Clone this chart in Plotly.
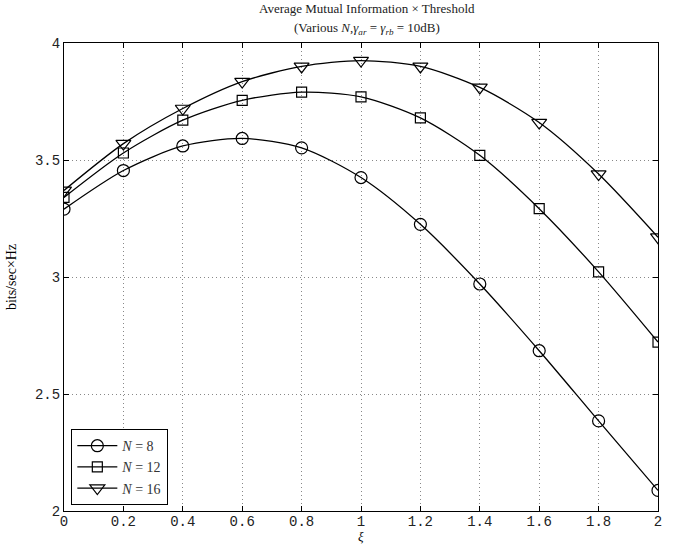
import plotly.graph_objects as go

xi = [0, 0.2, 0.4, 0.6, 0.8, 1.0, 1.2, 1.4, 1.6, 1.8, 2.0]
n8 = [3.29, 3.455, 3.56, 3.592, 3.552, 3.425, 3.225, 2.97, 2.685, 2.385, 2.088]
n12 = [3.34, 3.53, 3.67, 3.755, 3.79, 3.77, 3.68, 3.52, 3.292, 3.022, 2.722]
n16 = [3.37, 3.57, 3.72, 3.835, 3.9, 3.925, 3.9, 3.81, 3.66, 3.44, 3.17]
names = ["<i>N</i> = 8", "<i>N</i> = 12", "<i>N</i> = 16"]
symbols = ["circle-open", "square-open", "triangle-down-open"]
x_ticks = [0, 0.2, 0.4, 0.6, 0.8, 1, 1.2, 1.4, 1.6, 1.8, 2]
x_ticktext = ["0", "0.2", "0.4", "0.6", "0.8", "1", "1.2", "1.4", "1.6", "1.8", "2"]
y_ticks = [2, 2.5, 3, 3.5, 4]
y_ticktext = ["2", "2.5", "3", "3.5", "4"]

fig = go.Figure()
for ys, nm, sym, sz in zip([n8, n12, n16], names, symbols, [12, 10, 13]):
    fig.add_trace(go.Scatter(
        x=xi, y=ys, name=nm, mode="lines+markers",
        line=dict(color="black", width=1.3, shape="spline", smoothing=0.8),
        marker=dict(symbol=sym, size=sz, color="black", line=dict(width=1.2)),
    ))

axis_common = dict(
    showline=True, linecolor="black", linewidth=1.2, mirror="ticks",
    ticks="inside", ticklen=5, tickcolor="black",
    showgrid=True, gridcolor="#888888", griddash="1px,3px", gridwidth=1,
    zeroline=False, automargin=False,
    tickfont=dict(family="Liberation Mono, Courier New, monospace", size=14, color="#222222"),
)

serif = "Liberation Serif, Times New Roman, serif"
fig.update_layout(
    width=678, height=546,
    paper_bgcolor="white", plot_bgcolor="white",
    margin=dict(l=64, r=20, t=43, b=35),
    xaxis=dict(range=[0, 2], tickvals=x_ticks, ticktext=x_ticktext,
               ticklabelstandoff=-3, **axis_common),
    yaxis=dict(range=[2, 4], tickvals=y_ticks, ticktext=y_ticktext,
               title=dict(text="bits/sec×Hz", standoff=14,
                          font=dict(family=serif, size=14, color="black")),
               **axis_common),
    legend=dict(x=0.012, y=0.013, xanchor="left", yanchor="bottom",
                bgcolor="white", bordercolor="black", borderwidth=1.2,
                font=dict(family=serif, size=14, color="#333333"),
                tracegroupgap=0, itemwidth=40),
    showlegend=True,
    annotations=[
        dict(text="Average Mutual Information × Threshold", xref="paper", yref="paper",
             x=0.51, y=1, yanchor="bottom", yshift=25, showarrow=False,
             font=dict(family=serif, size=13, color="#222222")),
        dict(text="(Various <i>N</i>,<i>γ<sub>ar</sub></i> = <i>γ<sub>rb</sub></i> = 10dB)",
             xref="paper", yref="paper",
             x=0.51, y=1, yanchor="bottom", yshift=4, showarrow=False,
             font=dict(family=serif, size=13, color="#222222")),
        dict(text="<i>ξ</i>", xref="paper", yref="paper", x=0.5, y=0,
             yanchor="bottom", yshift=-34, showarrow=False, borderpad=0,
             font=dict(family=serif, size=13, color="black")),
    ],
)

fig.write_html("out.html", config={"displayModeBar": False},
               post_script="document.body.style.margin='0';")
